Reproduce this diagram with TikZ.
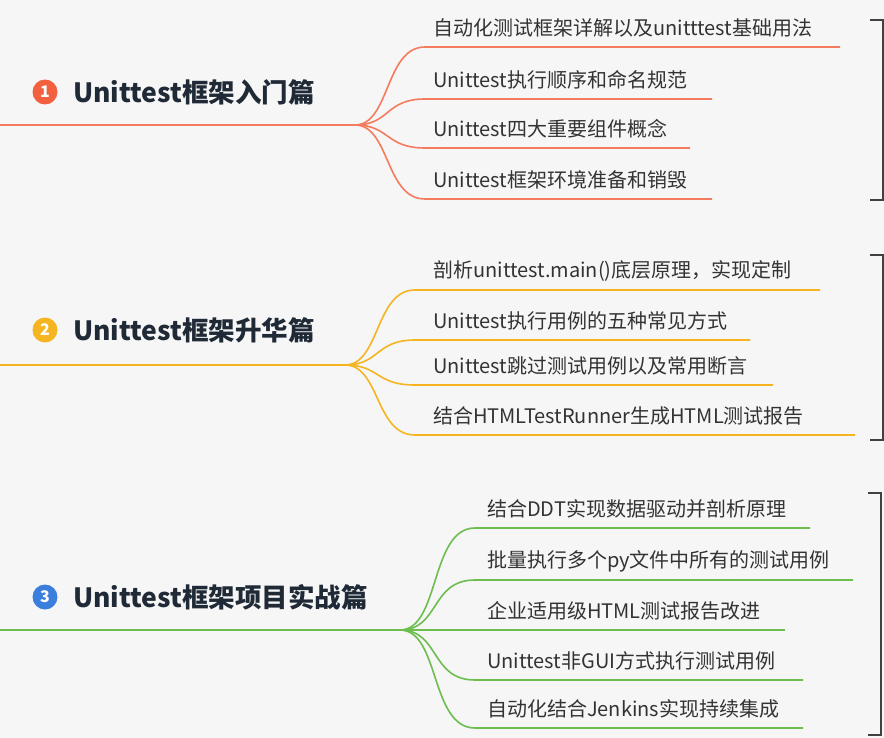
\documentclass[tikz,border=0pt]{standalone}
\usepackage{fontspec}
\setmainfont{Noto Sans CJK SC}
\definecolor{bg}{HTML}{F6F6F7}
\definecolor{cA}{HTML}{F57B5E}
\definecolor{cB}{HTML}{F5B520}
\definecolor{cC}{HTML}{6DBD4F}
\definecolor{cBlue}{HTML}{3A7FDB}
\definecolor{cRed}{HTML}{F2603F}
\definecolor{txt}{HTML}{333333}
\definecolor{ttl}{HTML}{1F2A36}
\tikzset{
 item/.style={anchor=west,inner sep=0pt,font=\fontsize{20}{20}\selectfont,text=txt},
 title/.style={anchor=west,inner sep=0pt,font=\fontsize{26.5}{26.5}\selectfont\bfseries,text=ttl},
 num/.style={circle,inner sep=0pt,minimum size=25pt,text=white,font=\fontsize{16}{16}\selectfont\bfseries},
 br/.style={line width=1.6pt},
 brk/.style={draw=black!75,line width=1.5pt}
}
\begin{document}
\begin{tikzpicture}[x=1pt,y=-1pt]
\useasboundingbox[fill=bg] (0,0) rectangle (884,738);
% section 1
\node[num,fill=cRed] (n1) at (45,92) {1};
\node[title] (t1) at (73,92) {Unittest框架入门篇};
\coordinate (s1) at (0,125); \coordinate (h1) at (355,125);
\draw[br,cA] (s1) -- (h1);
\foreach \y/\e/\t [count=\i] in {47/840/自动化测试框架详解以及unitttest基础用法,99/712/Unittest执行顺序和命名规范,148/690/Unittest四大重要组件概念,199/712/Unittest框架环境准备和销毁}{
 \node[item] (a\i) at (433,\y-19) {\t};
 \coordinate (ae\i) at (\e,\y);
 \draw[br,cA] (h1) .. controls (390,125) and (385,\y) .. (425,\y) -- (ae\i);
}
\draw[brk] (870,20) -- (883,20) -- (883,200) -- (870,200);
% section 2
\node[num,fill=cB] (n2) at (45,330) {2};
\node[title] (t2) at (73,330) {Unittest框架升华篇};
\coordinate (s2) at (0,365); \coordinate (h2) at (345,365);
\draw[br,cB] (s2) -- (h2);
\foreach \y/\e/\t [count=\i] in {290/820/剖析unittest.main()底层原理，实现定制,340/750/Unittest执行用例的五种常见方式,385/773/Unittest跳过测试用例以及常用断言,435/855/结合HTMLTestRunner生成HTML测试报告}{
 \node[item] (b\i) at (433,\y-19) {\t};
 \coordinate (be\i) at (\e,\y);
 \draw[br,cB] (h2) .. controls (380,365) and (375,\y) .. (415,\y) -- (be\i);
}
\draw[brk] (870,255) -- (883,255) -- (883,440) -- (870,440);
% section 3
\node[num,fill=cBlue] (n3) at (45,597) {3};
\node[title] (t3) at (73,597) {Unittest框架项目实战篇};
\coordinate (s3) at (0,630); \coordinate (h3) at (400,630);
\draw[br,cC] (s3) -- (h3);
\foreach \y/\e/\t [count=\i] in {528/810/结合DDT实现数据驱动并剖析原理,580/853/批量执行多个py文件中所有的测试用例,630/785/企业适用级HTML测试报告改进,680/803/Unittest非GUI方式执行测试用例,728/803/自动化结合Jenkins实现持续集成}{
 \node[item] (c\i) at (487,\y-19) {\t};
 \coordinate (ce\i) at (\e,\y);
 \draw[br,cC] (h3) .. controls (440,630) and (430,\y) .. (475,\y) -- (ce\i);
}
\draw[brk] (868,493) -- (881,493) -- (881,735) -- (868,735);
\end{tikzpicture}
\end{document}
